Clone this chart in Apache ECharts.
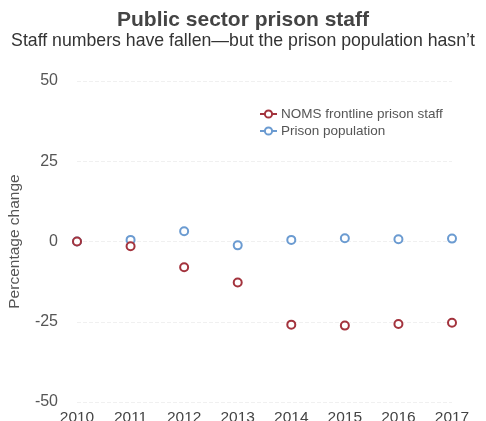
<!DOCTYPE html>
<html>
<head>
<meta charset="utf-8">
<script src="https://cdn.jsdelivr.net/npm/echarts@6/dist/echarts.min.js"></script>
<style>
  html, body { margin: 0; padding: 0; background: #fff; }
  #chart { width: 486px; height: 421px; }
</style>
</head>
<body>
<div id="chart"></div>
<script>
// 年份（横轴）
const years = ['2010', '2011', '2012', '2013', '2014', '2015', '2016', '2017'];
// 一线监狱员工变化 %
const staffChange = [0, -1.5, -8, -12.8, -25.9, -26.2, -25.7, -25.3];
// 监狱人口变化 %
const populationChange = [0, 0.5, 3.2, -1.2, 0.5, 1, 0.7, 0.9];
// 纵轴刻度
const yTicks = [-50, -25, 0, 25, 50];

const chart = echarts.init(document.getElementById('chart'));

const option = {
    animation: false,
    textStyle: { fontFamily: 'Liberation Sans, Arial, sans-serif' },
    title: {
        text: 'Public sector prison staff',
        subtext: "Staff numbers have fallen\u2014but the prison population hasn\u2019t",
        left: 'center',
        top: 5,
        itemGap: 1,
        textStyle: { fontSize: 21, fontWeight: 'bold', color: '#444' },
        subtextStyle: { fontSize: 17.7, color: '#333' }
    },
    legend: {
        orient: 'vertical',
        left: 254,
        top: 102,
        itemGap: 3,
        itemWidth: 17,
        itemHeight: 9,
        textStyle: { fontSize: 13.5, color: '#555', padding: [0, 0, 0, -1] },
        lineStyle: { width: 2, opacity: 1 },
        data: ['NOMS frontline prison staff', 'Prison population']
    },
    grid: { left: 77, right: 34, top: 81, bottom: 19, outerBoundsMode: 'none' },
    xAxis: {
        type: 'category',
        data: years,
        boundaryGap: false,
        axisLine: { show: false },
        axisTick: { show: false },
        axisLabel: { fontSize: 15.5, color: '#444', margin: 8 }
    },
    yAxis: {
        type: 'value',
        min: yTicks[0],
        max: yTicks[yTicks.length - 1],
        interval: 25,
        name: 'Percentage change',
        nameLocation: 'middle',
        nameGap: 54,
        nameTextStyle: { fontSize: 15.5, color: '#555' },
        axisLine: { show: false },
        axisTick: { show: false },
        axisLabel: { fontSize: 16, color: '#555', margin: 19 },
        splitLine: { lineStyle: { color: '#f0f0f0', type: 'dashed', width: 1 } }
    },
    series: [
        {
            name: 'Prison population',
            type: 'line',
            data: populationChange,
            symbol: 'emptyCircle',
            symbolSize: 8,
            z: 2,
            itemStyle: { color: '#6b9bd1', borderWidth: 1.8 },
            lineStyle: { width: 0 }
        },
        {
            name: 'NOMS frontline prison staff',
            type: 'line',
            data: staffChange,
            symbol: 'emptyCircle',
            symbolSize: 8,
            z: 3,
            itemStyle: { color: '#a3333d', borderWidth: 1.8 },
            lineStyle: { width: 0 }
        }
    ]
};

chart.setOption(option);
</script>
</body>
</html>
